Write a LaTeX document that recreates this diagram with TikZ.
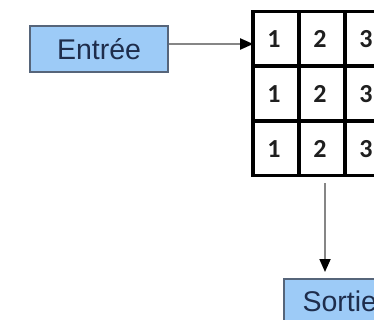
\documentclass[tikz,border=0pt]{standalone}
\usepackage{fontspec}
\setmainfont{Liberation Sans}
\newfontfamily\digitfont{Carlito}[BoldFont={Carlito Bold}]
\usetikzlibrary{arrows.meta}
\definecolor{boxfill}{HTML}{9DCBF7}
\definecolor{boxline}{HTML}{56657A}
\definecolor{boxtext}{HTML}{1E2D4C}
\definecolor{linkgrey}{HTML}{868686}
\newcommand\cellfont{\fontsize{26}{30}\digitfont\bfseries\selectfont}
\newcommand\boxfont{\fontsize{28.5}{32}\selectfont}
\tikzset{
  iobox/.style={draw=boxline, line width=1.6pt, fill=boxfill, text=boxtext,
    font=\boxfont, minimum height=46pt, inner sep=0pt},
  cell/.style={draw=black, line width=3.6pt, minimum width=46pt, minimum height=54.7pt,
    inner sep=0pt},
  num/.style={text=black!88, inner sep=0pt},
  link/.style={draw=linkgrey, line width=1.8pt,
    -{Triangle[length=13pt, width=11pt, color=black]}},
}
\begin{document}
\begin{tikzpicture}[x=1pt, y=-1pt]
  \useasboundingbox (0,0) rectangle (374,320);

  % input and output boxes
  \node[iobox, minimum width=138pt] (Entree) at (99,49) {Entr\'ee};
  \node[iobox, minimum width=112pt, anchor=north west] (Sortie) at (283,278) {Sortie};

  % 3x3 grid of cells, each holding its column number
  \foreach \r/\y in {1/38.8, 2/93.5, 3/148.2} {
    \foreach \c/\x in {1/276, 2/322, 3/368} {
      \node[cell] (c\r\c) at (\x,\y) {};
      \node[num] (n\r\c) at ([xshift=-2pt, yshift=-0.5pt]c\r\c.center) {\cellfont\c};
    }
  }

  % connectors
  \draw[link] ([yshift=5pt]Entree.east) -- ([yshift=5pt, xshift=2pt]Entree.east -| c11.west);
  \draw[link] ([xshift=3pt, yshift=-6pt]c32.south) -- ([xshift=3pt, yshift=6pt]c32.south |- Sortie.north);
\end{tikzpicture}
\end{document}
